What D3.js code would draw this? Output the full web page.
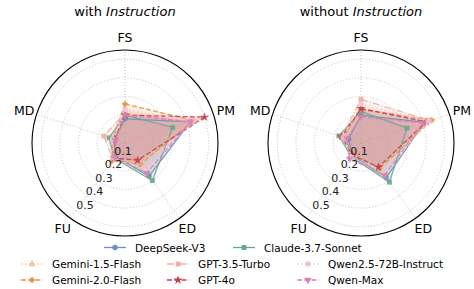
<!DOCTYPE html>
<html lang="en">
  <head>
    <meta charset="UTF-8" />
    <title>Radar</title>
    <script src="https://d3js.org/d3.v7.min.js"></script>
    <style>
      body { margin: 0; background: #fff; }
      * { font-family: "DejaVu Sans", sans-serif; }
      .title { font-size: 13px; text-anchor: middle; }
      .axis-label { font-size: 12.5px; text-anchor: middle; dominant-baseline: central; }
      .rtick { font-size: 11px; text-anchor: middle; dominant-baseline: central; fill: #222; }
      .legend text { font-size: 10.5px; dominant-baseline: central; }
    </style>
  </head>
  <body></body>
  <script>
    const axes = ["FS", "PM", "ED", "FU", "MD"];
    const models = [
      "DeepSeek-V3", "Claude-3.7-Sonnet", "Gemini-1.5-Flash", "Gemini-2.0-Flash",
      "GPT-3.5-Turbo", "GPT-4o", "Qwen2.5-72B-Instruct", "Qwen-Max"
    ];
    const rTicks = [0.1, 0.2, 0.3, 0.4, 0.5];

    // values per model, in axes order FS, PM, ED, FU, MD
    const withInstruction = [
      [0.18, 0.42, 0.27, 0.14, 0.11],
      [0.20, 0.32, 0.30, 0.15, 0.14],
      [0.22, 0.43, 0.22, 0.16, 0.12],
      [0.26, 0.44, 0.19, 0.17, 0.12],
      [0.21, 0.41, 0.18, 0.16, 0.17],
      [0.20, 0.50, 0.165, 0.15, 0.11],
      [0.23, 0.44, 0.23, 0.15, 0.12],
      [0.20, 0.42, 0.25, 0.145, 0.105]
    ];
    const withoutInstruction = [
      [0.20, 0.41, 0.28, 0.13, 0.12],
      [0.22, 0.31, 0.31, 0.14, 0.175],
      [0.24, 0.44, 0.24, 0.13, 0.15],
      [0.23, 0.45, 0.22, 0.12, 0.15],
      [0.285, 0.44, 0.21, 0.13, 0.16],
      [0.235, 0.42, 0.21, 0.13, 0.16],
      [0.26, 0.43, 0.26, 0.14, 0.15],
      [0.19, 0.40, 0.265, 0.155, 0.13]
    ];

    const styles = [
      { color: "#6f8fbf", dash: null, symbol: d3.symbolCircle, size: 24, rot: 0 },
      { color: "#68a88f", dash: null, symbol: d3.symbolSquare, size: 24, rot: 0 },
      { color: "#f3c89c", dash: "1.5,2.5", symbol: d3.symbolTriangle, size: 24, rot: 0 },
      { color: "#e39550", dash: "5,2.2", symbol: d3.symbolDiamond2, size: 28, rot: 0 },
      { color: "#efae9e", dash: "7,2,1.3,2", symbol: d3.symbolSquare, size: 24, rot: 0 },
      { color: "#c13f4e", dash: "5,2.2", symbol: d3.symbolStar, size: 26, rot: 0 },
      { color: "#efc4d6", dash: "1.5,2.5", symbol: d3.symbolCircle, size: 24, rot: 0 },
      { color: "#d882b4", dash: "5,2.2", symbol: d3.symbolTriangle, size: 24, rot: 180 }
    ];

    const W = 474, H = 289;
    const svg = d3.select("body").append("svg")
      .attr("width", W).attr("height", H)
      .style("background", "#fff");

    const R = 93;
    const r = d3.scaleLinear().domain([0.05, 0.55]).range([0, R]);
    const angle = d3.scaleLinear().domain([0, axes.length]).range([0, 2 * Math.PI]);

    function pt(a, rad) {
      return [Math.sin(a) * rad, -Math.cos(a) * rad];
    }

    function drawPanel(cx, cy, titleParts, values) {
      const g = svg.append("g").attr("transform", `translate(${cx},${cy})`);

      const t = svg.append("text").attr("class", "title").attr("x", cx).attr("y", 16);
      t.append("tspan").text(titleParts[0]);
      t.append("tspan").attr("font-style", "italic").text(titleParts[1]);

      // grid rings
      g.selectAll(".ring").data(rTicks).enter().append("circle")
        .attr("r", (d) => r(d))
        .attr("fill", "none")
        .attr("stroke", "#b8b8b8")
        .attr("stroke-width", 0.9)
        .attr("stroke-dasharray", "1,2");

      // spokes
      g.selectAll(".spoke").data(axes).enter().append("line")
        .attr("x1", 0).attr("y1", 0)
        .attr("x2", (d, i) => pt(angle(i), R)[0])
        .attr("y2", (d, i) => pt(angle(i), R)[1])
        .attr("stroke", "#b8b8b8")
        .attr("stroke-width", 0.9)
        .attr("stroke-dasharray", "1,2");

      const radial = d3.lineRadial()
        .angle((d, i) => angle(i))
        .radius((d) => r(d))
        .curve(d3.curveLinearClosed);

      values.forEach(function (vals, m) {
        g.append("path")
          .attr("d", radial(vals))
          .attr("fill", styles[m].color)
          .attr("fill-opacity", 0.17)
          .attr("stroke", "none");
      });
      values.forEach(function (vals, m) {
        const s = styles[m];
        g.append("path")
          .attr("d", radial(vals))
          .attr("fill", "none")
          .attr("stroke", s.color)
          .attr("stroke-width", 1.3)
          .attr("stroke-opacity", 0.9)
          .attr("stroke-dasharray", s.dash);
        g.selectAll(null).data(vals).enter().append("path")
          .attr("d", d3.symbol().type(s.symbol).size(s.size))
          .attr("transform", (d, i) => {
            const p = pt(angle(i), r(d));
            return `translate(${p[0]},${p[1]}) rotate(${s.rot})`;
          })
          .attr("fill", s.color)
          .attr("fill-opacity", 0.9);
      });

      // outer frame
      g.append("circle").attr("r", R).attr("fill", "none")
        .attr("stroke", "#000").attr("stroke-width", 1.1);

      // axis labels
      g.selectAll(".axis-label").data(axes).enter().append("text")
        .attr("class", "axis-label")
        .attr("x", (d, i) => pt(angle(i), 106)[0])
        .attr("y", (d, i) => pt(angle(i), 106)[1])
        .text((d) => d);

      // radial tick labels
      g.selectAll(".rtick").data(rTicks).enter().append("text")
        .attr("class", "rtick")
        .attr("x", (d) => 2.75 - 0.51 * r(d))
        .attr("y", (d) => 1.25 + 0.726 * r(d))
        .text((d) => d3.format(".1f")(d));
    }

    drawPanel(125, 143, ["with ", "Instruction"], withInstruction);
    drawPanel(361, 143, ["without ", "Instruction"], withoutInstruction);

    // legend
    const legendPos = [
      [104, 247.5], [233, 247.5],
      [21, 264], [21, 280],
      [167, 264], [167, 280],
      [297, 264], [297, 280]
    ];
    const legend = svg.append("g").attr("class", "legend");
    models.forEach(function (name, m) {
      const s = styles[m];
      const [x0, y0] = legendPos[m];
      const e = legend.append("g").attr("transform", `translate(${x0},${y0})`);
      e.append("line").attr("x1", 0).attr("x2", 22).attr("y1", 0).attr("y2", 0)
        .attr("stroke", s.color).attr("stroke-width", 1.3)
        .attr("stroke-dasharray", s.dash);
      e.append("path")
        .attr("d", d3.symbol().type(s.symbol).size(s.size))
        .attr("transform", `translate(11,0) rotate(${s.rot})`)
        .attr("fill", s.color);
      e.append("text").attr("x", 31).attr("y", 0).text(name);
    });
  </script>
</html>
